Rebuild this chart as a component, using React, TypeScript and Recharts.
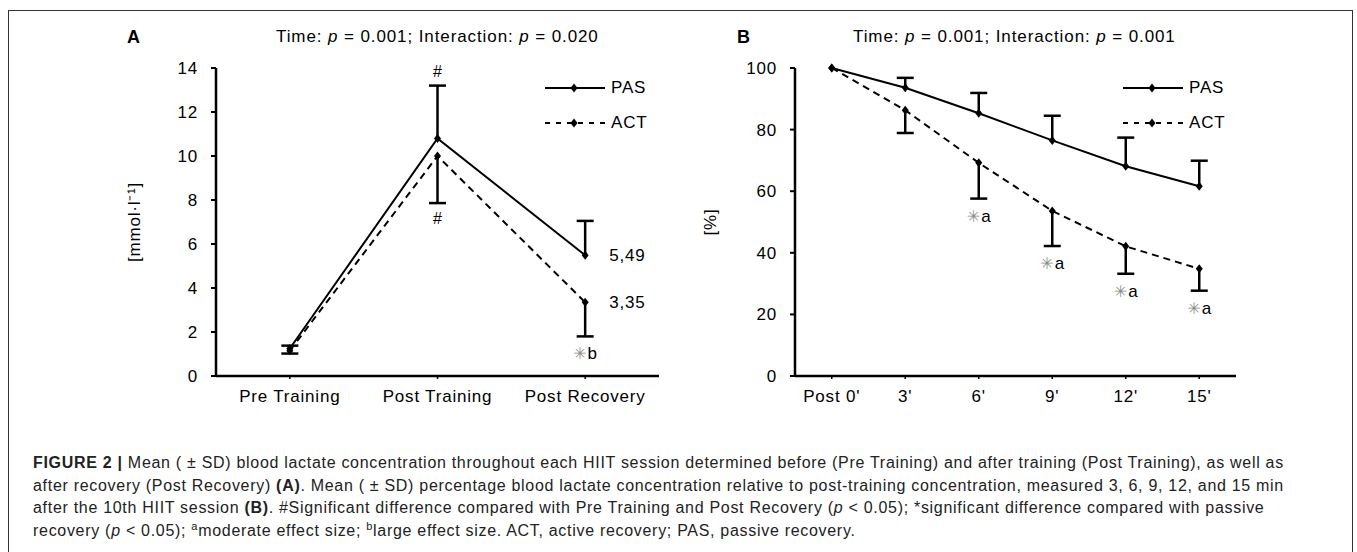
import React from 'react';
import { LineChart, Line, XAxis, YAxis, ErrorBar, LabelList, Legend } from 'recharts';

// Panel A: blood lactate (mmol/l)
const categoriesA = ['Pre Training', 'Post Training', 'Post Recovery'];
const pasMeanA = [1.25, 10.8, 5.49];
const actMeanA = [1.15, 10.0, 3.35];
const pasUpperA = [1.38, 13.2, 7.05];
const actLowerA = [1.02, 7.86, 1.8];
const pasNotesA = ['', '#', ''];
const actNotesA = ['', '#', '✳b'];
const pasTextA = ['', '', '5,49'];
const actTextA = ['', '', '3,35'];
const ticksA = [0, 2, 4, 6, 8, 10, 12, 14];

// Panel B: % of post-training concentration
const categoriesB = ["Post 0'", "3'", "6'", "9'", "12'", "15'"];
const pasMeanB = [100, 93.6, 85.3, 76.5, 68.1, 61.6];
const actMeanB = [100, 86.3, 69.2, 53.6, 42.1, 34.8];
const pasUpperB = [null, 96.8, 91.9, 84.5, 77.4, 69.9];
const actLowerB = [null, 78.9, 57.6, 42.2, 33.2, 27.7];
const pasNotesB = ['', '', '', '', '', ''];
const actNotesB = ['', '', '✳a', '✳a', '✳a', '✳a'];
const ticksB = [0, 20, 40, 60, 80, 100];

const seriesOrder = ['PAS', 'ACT'];

const FONT = '"Liberation Sans", Arial, Helvetica, sans-serif';
const DASH = '7 5';

const buildRows = (
  cats: string[], pas: number[], act: number[],
  pasUp: (number | null)[], actLo: (number | null)[],
  pasNotes: string[], actNotes: string[], pasText: string[], actText: string[]
) =>
  cats.map((cat, i) => ({
    cat,
    pas: pas[i],
    act: act[i],
    pasErr: pasUp[i] == null ? undefined : [0, (pasUp[i] as number) - pas[i]],
    actErr: actLo[i] == null ? undefined : [act[i] - (actLo[i] as number), 0],
    pasCap: pasUp[i],
    actCap: actLo[i],
    pasNote: pasNotes[i],
    actNote: actNotes[i],
    pasText: pasText[i],
    actText: actText[i],
  }));

const dataA = buildRows(categoriesA, pasMeanA, actMeanA, pasUpperA, actLowerA, pasNotesA, actNotesA, pasTextA, actTextA);
const dataB = buildRows(categoriesB, pasMeanB, actMeanB, pasUpperB, actLowerB, pasNotesB, actNotesB,
  categoriesB.map(() => ''), categoriesB.map(() => ''));

const Diamond = ({ cx, cy }: { cx: number; cy: number }) => (
  <polygon points={`${cx},${cy - 4.5} ${cx + 3.5},${cy} ${cx},${cy + 4.5} ${cx - 3.5},${cy}`} fill="#000" />
);

const renderDiamond = (props: any) => {
  const { cx, cy, index } = props;
  if (cx == null || cy == null) return <g key={`dm-${index}`} />;
  return <Diamond key={`dm-${index}`} cx={cx} cy={cy} />;
};

const renderCap = (props: any) => {
  const { cx, cy, index, value } = props;
  if (cx == null || cy == null || value == null) return <g key={`cap-${index}`} />;
  return <line key={`cap-${index}`} x1={cx - 8.5} x2={cx + 8.5} y1={cy} y2={cy} stroke="#000" strokeWidth={2.5} />;
};

const noteLabel = (where: 'above' | 'below') => (props: any) => {
  const { x, y, value, index } = props;
  if (!value) return null;
  const str = String(value);
  if (str.startsWith('✳')) {
    return (
      <text key={`n-${index}`} x={x - 12} y={y + 23} fontFamily={FONT} fontSize={17} fill="#000">
        <tspan fill="#8a8a8a" fontFamily='"DejaVu Sans", sans-serif' fontSize={16}>{'\u2733\uFE0E'}</tspan>
        <tspan dx={1}>{str.slice(1)}</tspan>
      </text>
    );
  }
  return (
    <text key={`n-${index}`} x={x} y={where === 'above' ? y - 9 : y + 21} textAnchor="middle"
      fontFamily={FONT} fontSize={16} fill="#000">{str}</text>
  );
};

const valueLabel = (props: any) => {
  const { x, y, value, index } = props;
  if (!value) return null;
  return (
    <text key={`v-${index}`} x={x + 24} y={y + 6} fontFamily={FONT} fontSize={17} letterSpacing={0.8} fill="#000">{value}</text>
  );
};

const renderLegend = (props: any) => {
  const items = (props.payload || [])
    .filter((p: any) => seriesOrder.includes(p.value))
    .sort((a: any, b: any) => seriesOrder.indexOf(a.value) - seriesOrder.indexOf(b.value));
  return (
    <div>
      {items.map((item: any) => (
        <div key={item.value} style={{ display: 'flex', alignItems: 'center', height: 35 }}>
          <svg width={67} height={12}>
            <line x1={1} x2={61} y1={6} y2={6} stroke="#000" strokeWidth={2}
              strokeDasharray={item.value === 'ACT' ? '5 6' : undefined} />
            <Diamond cx={30} cy={6} />
          </svg>
          <span style={{ fontFamily: FONT, fontSize: 17, letterSpacing: 0.8, color: '#000' }}>{item.value}</span>
        </div>
      ))}
    </div>
  );
};

interface PanelProps {
  data: any[];
  ticks: number[];
  yLabel: string;
  labelX: number;
  left: number;
  width: number;
  plotLeft: number;
  plotRight: number;
  legendLeft: number;
}

const Panel: React.FC<PanelProps> = ({ data, ticks, yLabel, labelX, left, width, plotLeft, plotRight, legendLeft }) => {
  const plotWidth = plotRight - plotLeft;
  const pad = plotWidth / data.length / 2;
  const yAxisWidth = 100;
  return (
    <div style={{ position: 'absolute', left, top: 0 }}>
      <LineChart width={width} height={420} data={data}
        margin={{ top: 68, right: width - plotRight, left: plotLeft - yAxisWidth, bottom: 4 }}>
        <XAxis dataKey="cat" interval={0} height={40} padding={{ left: pad, right: pad }}
          axisLine={{ stroke: '#000', strokeWidth: 2.5 }} tickLine={{ stroke: '#000', strokeWidth: 1.5 }}
          tickSize={3} tickMargin={11}
          tick={{ fill: '#000', fontSize: 17, fontFamily: FONT, letterSpacing: 0.8 }} />
        <YAxis domain={[ticks[0], ticks[ticks.length - 1]]} ticks={ticks} width={yAxisWidth} interval={0}
          axisLine={{ stroke: '#000', strokeWidth: 2.5 }} tickLine={{ stroke: '#000', strokeWidth: 2 }}
          tickSize={5} tickMargin={13}
          tick={{ fill: '#000', fontSize: 17, fontFamily: FONT, letterSpacing: 0.8 }}
          label={{
            content: (p: any) => {
              const vb = p.viewBox || {};
              const cx = labelX;
              const cy = (vb.y ?? 68) + (vb.height ?? 308) / 2;
              return (
                <text x={cx} y={cy} transform={`rotate(-90 ${cx} ${cy})`} textAnchor="middle"
                  dominantBaseline="central" fontFamily={FONT} fontSize={17} letterSpacing={0.8} fill="#000">
                  {yLabel}
                </text>
              );
            },
          }} />
        <Legend layout="vertical" align="center" verticalAlign="middle" content={renderLegend}
          wrapperStyle={{ left: legendLeft, top: 70, width: 110, bottom: 'auto', right: 'auto' }} />
        <Line name="PAS" dataKey="pas" type="linear" stroke="#000" strokeWidth={2}
          dot={renderDiamond} activeDot={false} isAnimationActive={false}>
          <ErrorBar dataKey="pasErr" direction="y" width={0} stroke="#000" strokeWidth={2.5} />
          <LabelList dataKey="pasText" content={valueLabel} />
        </Line>
        <Line name="ACT" dataKey="act" type="linear" stroke="#000" strokeWidth={2} strokeDasharray={DASH}
          dot={renderDiamond} activeDot={false} isAnimationActive={false}>
          <ErrorBar dataKey="actErr" direction="y" width={0} stroke="#000" strokeWidth={2.5} />
          <LabelList dataKey="actText" content={valueLabel} />
        </Line>
        <Line dataKey="pasCap" stroke="none" dot={renderCap} activeDot={false} legendType="none" isAnimationActive={false}>
          <LabelList dataKey="pasNote" content={noteLabel('above')} />
        </Line>
        <Line dataKey="actCap" stroke="none" dot={renderCap} activeDot={false} legendType="none" isAnimationActive={false}>
          <LabelList dataKey="actNote" content={noteLabel('below')} />
        </Line>
      </LineChart>
    </div>
  );
};

const Title: React.FC<{ left: number; letter: string; textLeft: number; p2: string }> = ({ left, letter, textLeft, p2 }) => (
  <>
    <div style={{ position: 'absolute', left, top: 27, fontFamily: FONT, fontWeight: 'bold', fontSize: 18 }}>{letter}</div>
    <div style={{ position: 'absolute', left: textLeft, top: 27, fontFamily: FONT, fontSize: 17, letterSpacing: 0.9, whiteSpace: 'nowrap' }}>
      Time: <i>p</i> = 0.001; Interaction: <i>p</i> = {p2}
    </div>
  </>
);

export default function App() {
  return (
    <div style={{ position: 'absolute', left: 0, top: 0, width: 1357, height: 552, overflow: 'hidden', background: '#fff' }}>
      <div style={{ position: 'absolute', left: 8, top: 10, width: 1345, height: 600, border: '1.5px solid #333', boxSizing: 'border-box' }} />
      <Title left={127} letter="A" textLeft={276} p2="0.020" />
      <Title left={737} letter="B" textLeft={853} p2="0.001" />
      <Panel data={dataA} ticks={ticksA} yLabel="[mmol·l⁻¹]" labelX={134} left={0} width={680}
        plotLeft={216} plotRight={659} legendLeft={544} />
      <Panel data={dataB} ticks={ticksB} yLabel="[%]" labelX={30} left={680} width={677}
        plotLeft={115} plotRight={556} legendLeft={442} />
      <div style={{ position: 'absolute', left: 33, top: 452, fontFamily: FONT, fontSize: 16, letterSpacing: 0.7, lineHeight: '22.5px', color: '#222', whiteSpace: 'nowrap' }}>
        <b>FIGURE 2 |</b> Mean ( ± SD) blood lactate concentration throughout each HIIT session determined before (Pre Training) and after training (Post Training), as well as<br />
        after recovery (Post Recovery) <b>(A)</b>. Mean ( ± SD) percentage blood lactate concentration relative to post-training concentration, measured 3, 6, 9, 12, and 15 min<br />
        after the 10th HIIT session <b>(B)</b>. #Significant difference compared with Pre Training and Post Recovery (<i>p</i> &lt; 0.05); *significant difference compared with passive<br />
        recovery (<i>p</i> &lt; 0.05); <sup style={{ fontSize: 11, lineHeight: 0 }}>a</sup>moderate effect size; <sup style={{ fontSize: 11, lineHeight: 0 }}>b</sup>large effect size. ACT, active recovery; PAS, passive recovery.
      </div>
    </div>
  );
}
